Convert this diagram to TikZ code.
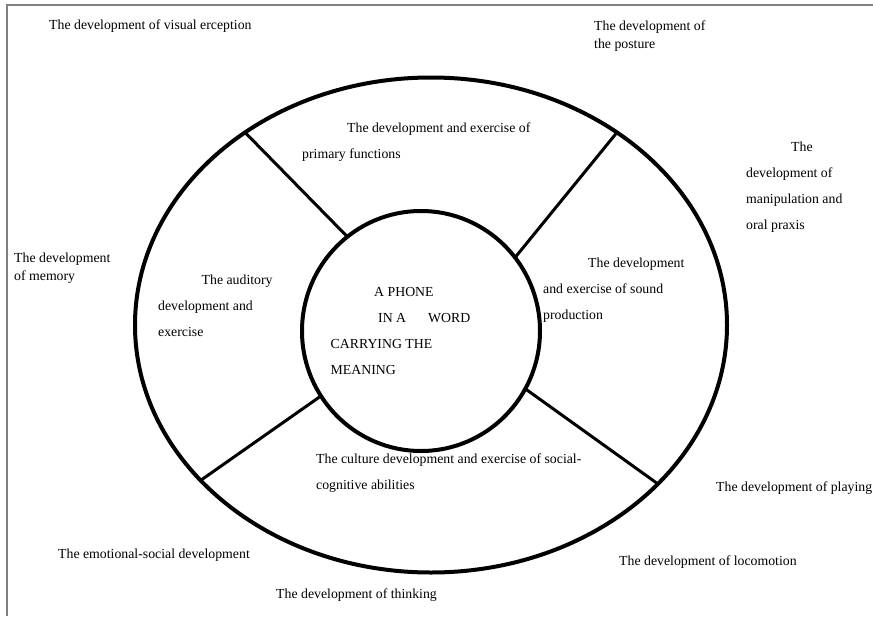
\documentclass[tikz,border=0pt]{standalone}
\usepackage{fontspec}
\setmainfont{Liberation Serif}
\usetikzlibrary{shapes.geometric}

\begin{document}
\begin{tikzpicture}[x=1pt, y=-1pt, every text node part/.style={align=left},
    lbl/.style={anchor=base west, inner sep=0pt, font=\fontsize{13.8}{26}\selectfont},
    close/.style={font=\fontsize{13.8}{18}\selectfont},
    ring/.style={draw, ellipse, line width=4pt, inner sep=0pt, outer sep=0pt},
    spoke/.style={line width=3pt}]
    \useasboundingbox (0, 0) rectangle (873, 616);
    \draw[gray, line width=2pt] (6.5, 616) -- (6.5, 4.5) -- (873, 4.5);
    \node (outer) [ring, minimum width=592pt, minimum height=495pt] at (431, 325) {};
    \node (inner) [ring, minimum width=238pt, minimum height=240pt] at (421, 331) {};
    \draw[spoke] (inner.128) -- (outer.134);
    \draw[spoke] (inner.38) -- (outer.46);
    \draw[spoke] (inner.-29) -- (outer.-35);
    \draw[spoke] (inner.213) -- (outer.214);
    \node (visual) [lbl] at (49, 29.5) {The development of visual erception};
    \node (posture) [lbl, close] at (594, 48.5) {The development of\\the posture};
    \node (primary) [lbl] at (302, 158.3) {\hspace*{45pt}The development and exercise of\\primary functions};
    \node (manip) [lbl] at (746, 229.3) {\hspace*{45pt}The\\development of\\manipulation and\\oral praxis};
    \node (memory) [lbl, close] at (14, 280) {The development\\of memory};
    \node (auditory) [lbl] at (158, 336.7) {\hspace*{43.5pt}The auditory\\development and\\exercise};
    \node (phone) [lbl] at (330.5, 374.3) {\hspace*{43.5pt}A PHONE\\\hspace*{47.5pt}IN A\hspace{22pt}WORD\\CARRYING THE\\MEANING};
    \node (sound) [lbl] at (543, 319.3) {\hspace*{45pt}The development\\and exercise of sound\\production};
    \node (social) [lbl] at (316, 489) {The culture development and exercise of social-\\cognitive abilities};
    \node (playing) [lbl] at (716, 491) {The development of playing};
    \node (emotional) [lbl] at (58, 558.5) {The emotional-social development};
    \node (locomotion) [lbl] at (619, 565) {The development of locomotion};
    \node (thinking) [lbl] at (276, 598.5) {The development of thinking};
\end{tikzpicture}
\end{document}
